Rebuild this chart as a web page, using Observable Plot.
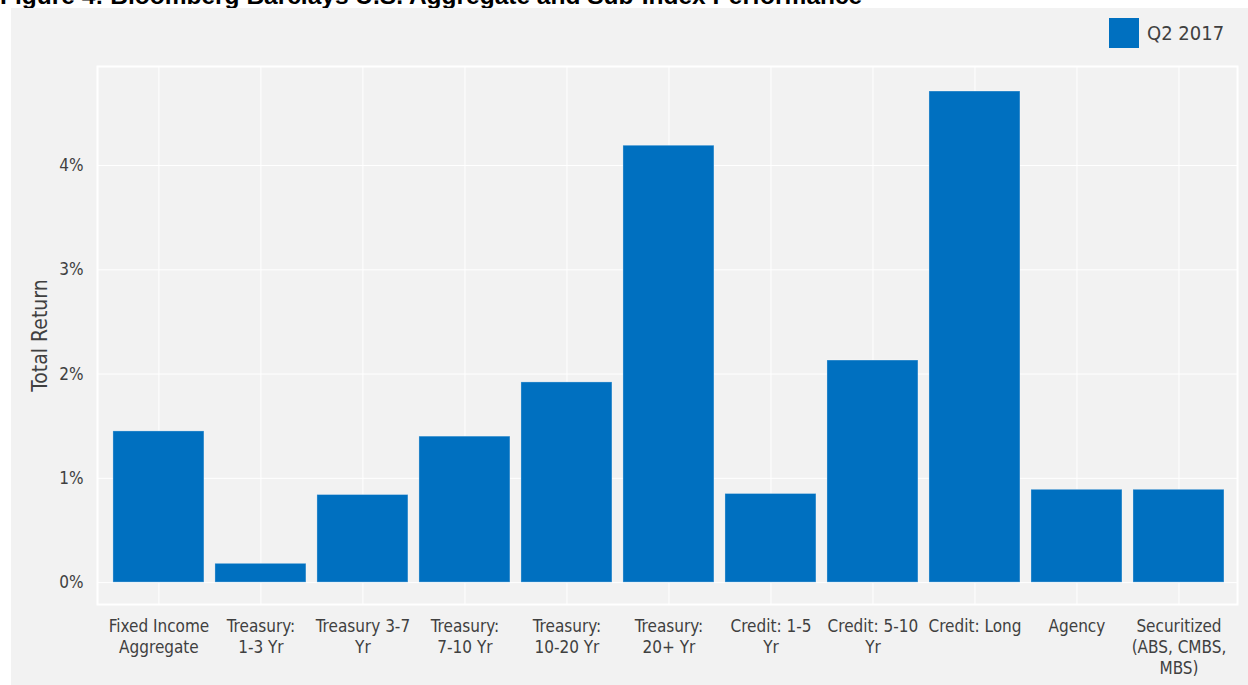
<!DOCTYPE html>
<html>
<head>
<meta charset="utf-8">
<script src="https://cdn.jsdelivr.net/npm/d3@7"></script>
<script src="https://cdn.jsdelivr.net/npm/@observablehq/plot@0.6"></script>
<style>
  html, body { margin: 0; padding: 0; background: #ffffff; width: 1248px; height: 685px; overflow: hidden; }
  #title { position: absolute; left: 0; top: -16px; font-family: "Liberation Sans", Arial, sans-serif; font-weight: bold; font-size: 24.5px; line-height: 24.5px; color: #000; white-space: nowrap; }
  #panel { position: absolute; left: 11px; top: 8px; width: 1237px; height: 677px; background: #f2f2f2; }
  #chart { position: absolute; left: 0; top: 0; }
  #legend { position: absolute; left: 1109px; top: 18px; display: flex; align-items: center; font-family: "Liberation Sans Narrow", "DejaVu Sans Condensed", sans-serif; font-size: 20px; color: #404040; }
  #legend .sw { width: 30px; height: 30px; background: #0070c0; margin-right: 8px; }
</style>
</head>
<body>
<div id="title">Figure 4: Bloomberg Barclays U.S. Aggregate and Sub-Index Performance</div>
<div id="panel"></div>
<div id="chart"></div>
<div id="legend"><div class="sw"></div><span>Q2 2017</span></div>
<script>
const categories = [
  "Fixed Income Aggregate", "Treasury: 1-3 Yr", "Treasury 3-7 Yr", "Treasury: 7-10 Yr",
  "Treasury: 10-20 Yr", "Treasury: 20+ Yr", "Credit: 1-5 Yr", "Credit: 5-10 Yr",
  "Credit: Long", "Agency", "Securitized (ABS, CMBS, MBS)"
];
const values = [1.45, 0.18, 0.84, 1.40, 1.92, 4.19, 0.85, 2.13, 4.71, 0.89, 0.89];
const tickLabels = [
  "Fixed Income\nAggregate", "Treasury:\n1-3 Yr", "Treasury 3-7\nYr", "Treasury:\n7-10 Yr",
  "Treasury:\n10-20 Yr", "Treasury:\n20+ Yr", "Credit: 1-5\nYr", "Credit: 5-10\nYr",
  "Credit: Long", "Agency", "Securitized\n(ABS, CMBS,\nMBS)"
];
const yTicks = [0, 1, 2, 3, 4];
const seriesName = "Q2 2017";

const data = categories.map((c, i) => ({category: c, value: values[i], series: seriesName}));
const font = "'Liberation Sans Narrow', 'DejaVu Sans Condensed', sans-serif";

const chart = Plot.plot({
  width: 1248,
  height: 685,
  marginLeft: 97,
  marginRight: 11,
  marginTop: 66,
  marginBottom: 81,
  style: {background: "transparent", fontFamily: font, fontSize: "17px", color: "#404040"},
  x: {domain: categories, paddingInner: 0.108, paddingOuter: 0.142, align: 0.55, round: false},
  y: {domain: [-0.21, 4.95]},
  marks: [
    Plot.gridY(yTicks, {stroke: "white", strokeOpacity: 1, strokeWidth: 1}),
    Plot.gridX(categories, {stroke: "white", strokeOpacity: 1, strokeWidth: 1}),
    Plot.frame({stroke: "white", strokeWidth: 2}),
    Plot.barY(data, {x: "category", y: "value", fill: "#0070c0", stroke: "white", strokeOpacity: 0.3, strokeWidth: 1}),
    Plot.axisX({tickSize: 0, tickPadding: 12, label: null, fontSize: 17, lineHeight: 1.25, fill: "#404040",
      tickFormat: d => tickLabels[categories.indexOf(d)]}),
    Plot.axisY(yTicks, {tickSize: 0, tickPadding: 14, label: null, fontSize: 17, fill: "#404040",
      tickFormat: d => d + "%"}),
    Plot.text(["Total Return"], {frameAnchor: "left", rotate: -90, dx: -57, textAnchor: "middle", lineAnchor: "middle", fontSize: 21, fill: "#404040"})
  ]
});
document.getElementById("chart").appendChild(chart);
</script>
</body>
</html>
